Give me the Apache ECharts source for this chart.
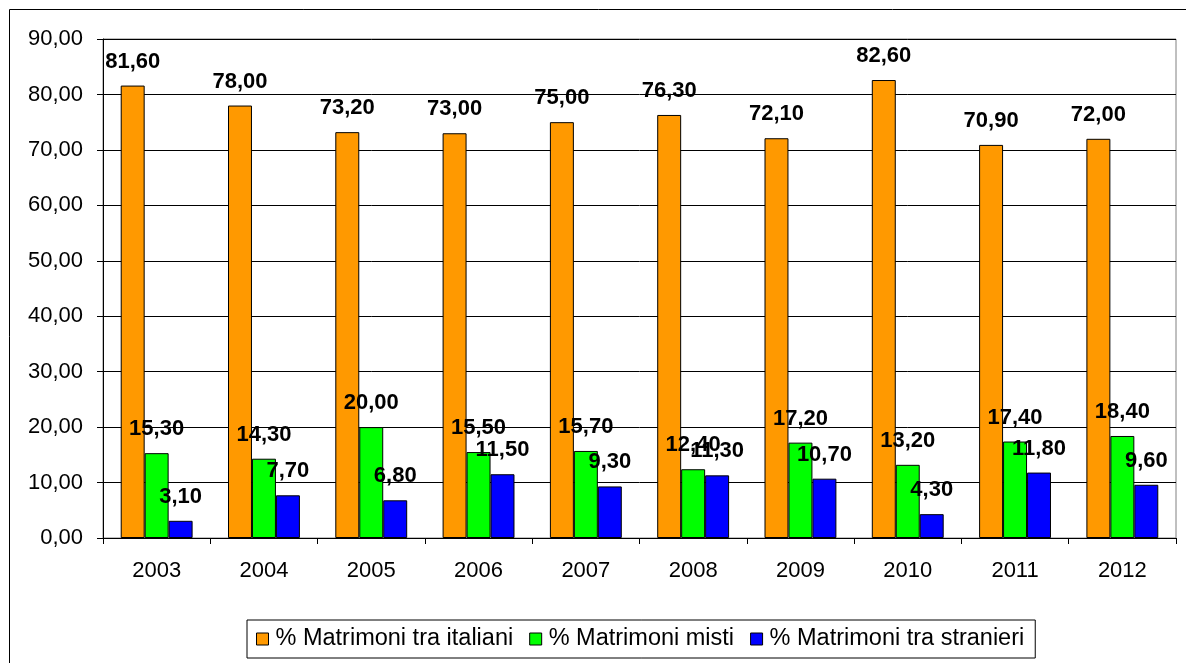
<!DOCTYPE html>
<html>
<head>
<meta charset="utf-8">
<script src="https://cdn.jsdelivr.net/npm/echarts@6/dist/echarts.min.js"></script>
<style>
  html, body { margin: 0; padding: 0; background: #fff; }
  #chart { width: 1186px; height: 663px; }
</style>
</head>
<body>
<div id="chart"></div>
<script>
var years = ["2003", "2004", "2005", "2006", "2007", "2008", "2009", "2010", "2011", "2012"];
var italiani = [81.6, 78.0, 73.2, 73.0, 75.0, 76.3, 72.1, 82.6, 70.9, 72.0];
var misti = [15.3, 14.3, 20.0, 15.5, 15.7, 12.4, 17.2, 13.2, 17.4, 18.4];
var stranieri = [3.1, 7.7, 6.8, 11.5, 9.3, 11.3, 10.7, 4.3, 11.8, 9.6];

var seriesNames = ["% Matrimoni tra italiani", "% Matrimoni misti", "% Matrimoni tra stranieri"];
var colors = ["#FF9900", "#00FF00", "#0000FF"];

function fmt(v) {
  return Number(v).toFixed(2).replace(".", ",");
}

var chart = echarts.init(document.getElementById("chart"));

function makeSeries(name, data, color) {
  return {
    name: name,
    type: "bar",
    data: data,
    barGap: "0%",
    barCategoryGap: "33%",
    itemStyle: { color: color, borderColor: "#000", borderWidth: 1 },
    label: {
      show: true,
      position: "top",
      distance: 13,
      formatter: function (p) { return fmt(p.value); },
      color: "#000",
      fontWeight: "bold",
      fontSize: 22,
      fontFamily: "Liberation Sans, Arial, sans-serif"
    }
  };
}

var option = {
  backgroundColor: "#fff",
  animation: false,
  textStyle: { fontFamily: "Liberation Sans, Arial, sans-serif" },
  graphic: [
    {
      type: "rect",
      shape: { x: 9.5, y: 9.5, width: 1200, height: 700 },
      style: { fill: "none", stroke: "#000", lineWidth: 1 },
      z: -1
    }
  ],
  grid: {
    left: 103,
    right: 10,
    top: 39,
    bottom: 125,
    show: true,
    borderColor: "#808080",
    borderWidth: 1
  },
  legend: {
    top: 620,
    left: 247,
    data: seriesNames,
    icon: "rect",
    itemWidth: 12,
    itemHeight: 12,
    itemGap: 16,
    padding: [7, 11, 7, 9],
    borderColor: "#000",
    borderWidth: 1,
    itemStyle: { borderColor: "#000", borderWidth: 1 },
    textStyle: { fontSize: 23.5, color: "#000", padding: [0, 0, 0, 2] }
  },
  xAxis: {
    type: "category",
    data: years,
    axisLine: { lineStyle: { color: "#000", width: 1 } },
    axisTick: { show: true, length: 6, lineStyle: { color: "#000" } },
    axisLabel: { color: "#000", fontSize: 22, margin: 22 }
  },
  yAxis: {
    type: "value",
    min: 0,
    max: 90,
    interval: 10,
    axisLine: { show: true, lineStyle: { color: "#000", width: 1 } },
    axisTick: { show: true, length: 6, lineStyle: { color: "#000" } },
    axisLabel: { color: "#000", fontSize: 22, margin: 20, formatter: fmt },
    splitLine: { show: true, lineStyle: { color: "#000", width: 1 } }
  },
  series: [
    makeSeries(seriesNames[0], italiani, colors[0]),
    makeSeries(seriesNames[1], misti, colors[1]),
    makeSeries(seriesNames[2], stranieri, colors[2])
  ]
};

chart.setOption(option);
</script>
</body>
</html>
